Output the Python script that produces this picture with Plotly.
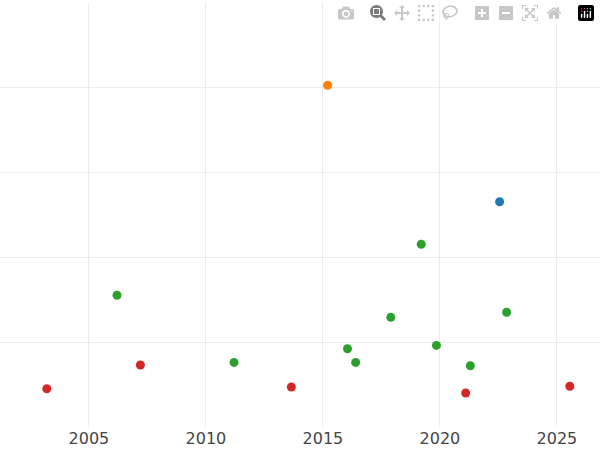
import plotly.graph_objects as go

orange_x = [2015.2]; orange_y = [4.02]
blue_x = [2022.55]; blue_y = [2.65]
green_x = [2006.2, 2011.2, 2016.05, 2016.4, 2017.9, 2019.2, 2019.85, 2021.3, 2022.85]
green_y = [1.55, 0.76, 0.92, 0.76, 1.29, 2.15, 0.96, 0.72, 1.35]
red_x = [2003.2, 2007.2, 2013.65, 2021.1, 2025.55]
red_y = [0.45, 0.73, 0.47, 0.40, 0.48]

fig = go.Figure()
for xs, ys, c in [(blue_x, blue_y, "#1f77b4"), (orange_x, orange_y, "#ff7f0e"),
                  (green_x, green_y, "#2ca02c"), (red_x, red_y, "#d62728")]:
    fig.add_trace(go.Scatter(x=xs, y=ys, mode="markers", marker=dict(color=c, size=9), showlegend=False))

fig.update_layout(
    width=600, height=450, margin=dict(l=0, r=0, t=2, b=23),
    plot_bgcolor="white", paper_bgcolor="white",
    xaxis=dict(range=[2001.2, 2026.84], tickvals=[2005, 2010, 2015, 2020, 2025],
               showgrid=True, gridcolor="#ebebeb", zeroline=False,
               tickfont=dict(family="DejaVu Sans", size=16, color="#444")),
    yaxis=dict(range=[0, 5], dtick=1, showticklabels=False, showgrid=True,
               gridcolor="#ebebeb", zeroline=False),
)
fig.write_html("out.html", post_script="document.body.style.margin='0';")
